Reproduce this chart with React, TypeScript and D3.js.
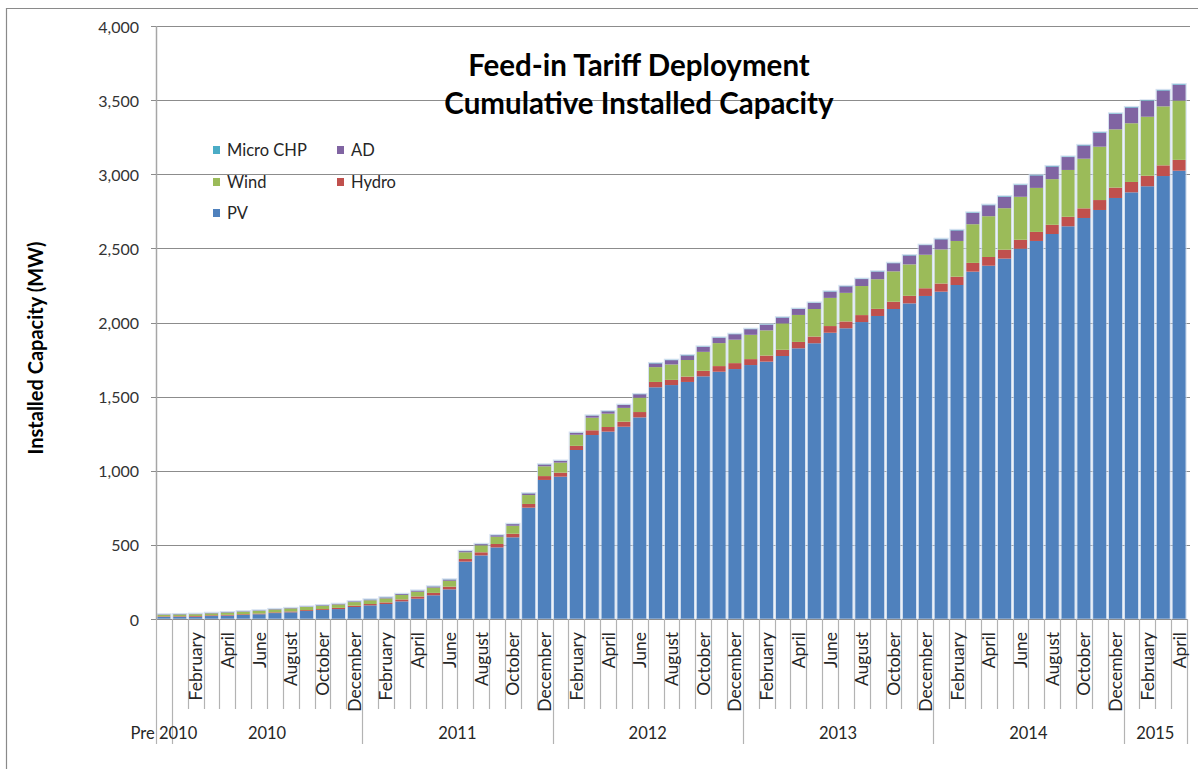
import React, { useEffect } from "react";
import * as d3 from "d3";

// ---- Data ----
const monthNames = [
  "January", "February", "March", "April", "May", "June",
  "July", "August", "September", "October", "November", "December",
];
const yearLabels = ["Pre 2010", "2010", "2011", "2012", "2013", "2014", "2015"];
const yearCounts = [1, 12, 12, 12, 12, 12, 4];

const seriesKeys = ["pv", "hydro", "wind", "ad", "chp"];
const seriesNames = ["PV", "Hydro", "Wind", "AD", "Micro CHP"];
const seriesColors = ["#4F81BD", "#C0504D", "#9BBB59", "#8064A2", "#4BACC6"];

const pv = [
  14, 15, 15, 20, 23, 27, 32, 40, 45, 54, 61, 67, 81, 92, 101, 119, 137, 160, 200,
  387, 429, 483, 551, 751, 938, 960, 1140, 1241, 1264, 1297, 1360, 1563, 1578, 1599, 1637, 1668, 1686,
  1713, 1736, 1774, 1826, 1860, 1931, 1961, 2003, 2044, 2091, 2129, 2179, 2208, 2253, 2343,
  2383, 2431, 2498, 2550, 2597, 2649, 2705, 2759, 2840, 2878, 2919, 2988, 3024,
];
const hydro = [
  4, 4, 5, 5, 5, 5, 5, 5, 6, 6, 6, 8, 9, 9, 11, 13, 15, 16, 18,
  18, 21, 23, 24, 25, 26, 27, 28, 32, 31, 34, 36, 36, 35, 36, 37, 38, 40,
  40, 41, 42, 43, 45, 45, 46, 47, 48, 49, 51, 52, 55, 56, 59,
  59, 60, 60, 61, 62, 64, 65, 67, 70, 70, 71, 72, 73,
];
const wind = [
  10, 11, 12, 13, 15, 17, 18, 19, 20, 21, 22, 23, 24, 25, 27, 30, 32, 36, 40,
  45, 47, 49, 54, 60, 66, 68, 75, 85, 90, 93, 97, 100, 104, 112, 128, 155, 158,
  164, 170, 178, 182, 186, 190, 193, 196, 200, 205, 212, 226, 230, 241, 261,
  275, 280, 290, 297, 308, 316, 335, 360, 393, 396, 398, 398, 400,
];
const ad = [
  3, 3, 3, 3, 3, 3, 3, 3, 3, 3, 4, 4, 5, 5, 6, 6, 7, 7, 8,
  8, 8, 10, 11, 11, 12, 12, 13, 14, 16, 20, 23, 25, 29, 31, 34, 36, 37,
  38, 38, 39, 40, 41, 42, 44, 47, 51, 55, 60, 65, 68, 71, 76,
  74, 77, 79, 84, 85, 87, 89, 94, 104, 106, 107, 107, 107,
];
const microChp = [
  1, 1, 1, 1, 1, 1, 1, 1, 1, 1, 1, 1, 1, 2, 2, 2, 2, 2, 2,
  2, 2, 2, 2, 2, 2, 2, 2, 2, 2, 2, 2, 3, 3, 3, 3, 3, 3,
  3, 3, 3, 3, 3, 3, 3, 3, 3, 3, 3, 3, 4, 4, 4,
  4, 4, 4, 4, 4, 4, 4, 4, 4, 4, 4, 4, 4,
];

const yTicks = [0, 500, 1000, 1500, 2000, 2500, 3000, 3500, 4000];

// ---- Layout ----
const W = 1198;
const H = 769;
const PL = 156;
const PR = 1187;
const PT = 26;
const PB = 619;
const FONT = "Lato, 'Open Sans', sans-serif";

export default function App() {
  useEffect(() => {
    document.body.style.margin = "0";
  }, []);

  const cats: { month: string; yearIdx: number }[] = [];
  yearLabels.forEach((yl, yi) => {
    for (let m = 0; m < yearCounts[yi]; m++) {
      cats.push({ month: yi === 0 ? "" : monthNames[m], yearIdx: yi });
    }
  });
  const n = cats.length;

  const rows = cats.map((c, i) => ({
    i,
    pv: pv[i],
    hydro: hydro[i],
    wind: wind[i],
    ad: ad[i],
    chp: microChp[i],
  }));

  const x = d3
    .scaleBand<number>()
    .domain(d3.range(n))
    .range([PL, PR])
    .paddingInner(0.16)
    .paddingOuter(0.08);
  const step = x.step();
  const bandStart = (i: number) => PL + i * step;

  const y = d3.scaleLinear().domain([0, 4000]).range([PB, PT]);

  const stacked = d3.stack<any>().keys(seriesKeys)(rows);

  const groupBounds: number[] = [0];
  let acc = 0;
  yearCounts.forEach((c) => {
    acc += c;
    groupBounds.push(acc);
  });

  const legendItems = [
    { name: seriesNames[4], color: seriesColors[4], x: 213, y: 150 },
    { name: seriesNames[3], color: seriesColors[3], x: 337, y: 150 },
    { name: seriesNames[2], color: seriesColors[2], x: 213, y: 182 },
    { name: seriesNames[1], color: seriesColors[1], x: 337, y: 182 },
    { name: seriesNames[0], color: seriesColors[0], x: 213, y: 213 },
  ];

  return (
    <svg width={W} height={H} style={{ display: "block", background: "#fff" }} fontFamily={FONT}>
      <path d={`M6.5,${H} V8.5 H${W}`} fill="none" stroke="#8a8a8a" strokeWidth={1.2} />

      {yTicks.filter((t) => t > 0).map((t) => (
        <line
          key={"g" + t}
          x1={PL}
          x2={PR + 3}
          y1={Math.round(y(t)) + 0.5}
          y2={Math.round(y(t)) + 0.5}
          stroke="#8c8c8c"
          strokeWidth={1}
        />
      ))}

      <g fontWeight="bold" fontSize={29.5} fill="#000" textAnchor="middle">
        <text x={639} y={76}>Feed-in Tariff Deployment</text>
        <text x={639} y={114}>Cumulative Installed Capacity</text>
      </g>

      {stacked.map((s, si) => (
        <g key={seriesKeys[si]} fill={seriesColors[si]}>
          {s.map((d: any, i: number) => (
            <rect
              key={i}
              x={x(i)}
              width={x.bandwidth()}
              y={y(d[1])}
              height={Math.max(0, y(d[0]) - y(d[1]))}
            />
          ))}
        </g>
      ))}
      {rows.map((r, i) => {
        const top = stacked[stacked.length - 1][i][1];
        return (
          <rect
            key={"o" + i}
            x={(x(i) as number) - 0.5}
            width={x.bandwidth() + 1}
            y={y(top) - 0.5}
            height={y(0) - y(top) + 0.5}
            fill="none"
            stroke="#c9d8ec"
            strokeOpacity={0.8}
            strokeWidth={1}
          />
        );
      })}

      <line x1={PL + 0.5} x2={PL + 0.5} y1={PT} y2={PB} stroke="#a6a6a6" strokeWidth={1.5} />
      {yTicks.map((t) => (
        <g key={"t" + t}>
          <line
            x1={PL - 5}
            x2={PL}
            y1={Math.round(y(t)) + 0.5}
            y2={Math.round(y(t)) + 0.5}
            stroke="#8c8c8c"
          />
          <text
            x={139}
            y={y(t)}
            textAnchor="end"
            dominantBaseline="central"
            fontSize={16}
            fill="#333"
          >
            {d3.format(",")(t)}
          </text>
        </g>
      ))}
      <text
        transform={`translate(35,348) rotate(-90)`}
        textAnchor="middle"
        dominantBaseline="central"
        fontSize={20}
        fontWeight="bold"
        fill="#000"
      >
        Installed Capacity (MW)
      </text>

      <line x1={PL} x2={PR} y1={PB + 0.5} y2={PB + 0.5} stroke="#8c8c8c" strokeWidth={1} />
      {d3.range(n + 1).map((k) => {
        const isGroup = groupBounds.includes(k);
        const xx = Math.round(bandStart(k)) + 0.5;
        return (
          <line
            key={"ct" + k}
            x1={xx}
            x2={xx}
            y1={PB}
            y2={isGroup ? 744 : 709}
            stroke="#b3b3b3"
            strokeWidth={1.2}
          />
        );
      })}
      {cats.map((c, i) =>
        i % 2 === 0 && c.month ? (
          <text
            key={"ml" + i}
            transform={`translate(${bandStart(i) + step / 2},632) rotate(-90)`}
            textAnchor="end"
            dominantBaseline="central"
            fontSize={17.5}
            fill="#262626"
          >
            {c.month}
          </text>
        ) : null
      )}
      {yearLabels.map((yl, yi) => {
        const s = groupBounds[yi];
        const e = groupBounds[yi + 1];
        return (
          <text
            key={"yl" + yi}
            x={(bandStart(s) + bandStart(e)) / 2}
            y={733}
            textAnchor="middle"
            dominantBaseline="central"
            fontSize={16.5}
            fill="#262626"
          >
            {yl}
          </text>
        );
      })}

      {legendItems.map((it) => (
        <g key={it.name}>
          <rect x={it.x} y={it.y - 4} width={7} height={8} fill={it.color} />
          <text x={it.x + 14} y={it.y} dominantBaseline="central" fontSize={16.5} fill="#262626">
            {it.name}
          </text>
        </g>
      ))}
    </svg>
  );
}
